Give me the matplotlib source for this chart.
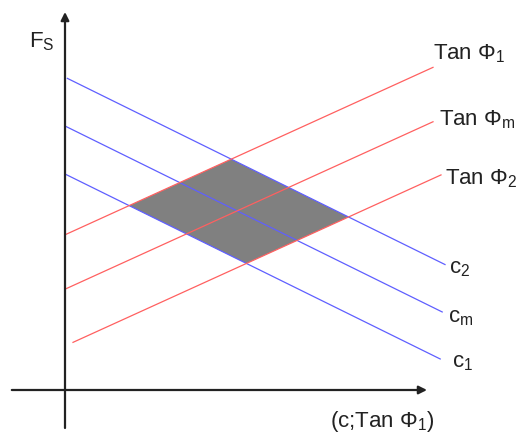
import matplotlib
matplotlib.use('Agg')
import matplotlib.pyplot as plt
import numpy as np

plt.rcParams['font.family'] = ['Liberation Sans', 'DejaVu Sans']
plt.rcParams['mathtext.fontset'] = 'custom'
plt.rcParams['mathtext.rm'] = 'Liberation Sans'
plt.rcParams['mathtext.it'] = 'Liberation Sans'

# blue lines: c1, cm, c2 (Fs falls with the x-value)
c_labels = ['c$_1$', 'c$_m$', 'c$_2$']
c_intercept = [5.4, 6.6, 7.82]
c_slope = -0.493
c_start = [0.03, 0.03, 0.06]
c_end = [9.38, 9.43, 9.5]

# red lines: Tan Phi1, Tan Phim, Tan Phi2
tan_labels = ['Tan Φ$_1$', 'Tan Φ$_m$', 'Tan Φ$_2$']
tan_intercept = [3.88, 2.52, 1.1]
tan_slope = 0.455
tan_start = [0.03, 0.03, 0.2]
tan_end = [9.2, 9.2, 9.4]

BLUE = '#5f5fff'
RED = '#ff6060'
INK = '#222222'

fig = plt.figure(figsize=(5.2, 4.35), dpi=100)
ax = fig.add_axes([0, 0, 1, 1])
ax.set_xlim(-65 / 40, 455 / 40)
ax.set_ylim(-44 / 40, 391 / 40)
ax.axis('off')


def meet(cb, tb):
    x = (cb - tb) / (tan_slope - c_slope)
    return x, tb + tan_slope * x


# shaded zone between c1/c2 and Tan Phi1/Tan Phi2
corners = [meet(c_intercept[0], tan_intercept[0]),
           meet(c_intercept[2], tan_intercept[0]),
           meet(c_intercept[2], tan_intercept[2]),
           meet(c_intercept[0], tan_intercept[2])]
ax.fill([p[0] for p in corners], [p[1] for p in corners],
        color='#808080', lw=0, zorder=1)

for b, x0, x1 in zip(c_intercept, c_start, c_end):
    xs = np.array([x0, x1])
    ax.plot(xs, b + c_slope * xs, color=BLUE, lw=0.9, zorder=2)
for b, x0, x1 in zip(tan_intercept, tan_start, tan_end):
    xs = np.array([x0, x1])
    ax.plot(xs, b + tan_slope * xs, color=RED, lw=0.9, zorder=2)

# axes with arrows
arrow = dict(arrowstyle='-|>', mutation_scale=12, lw=1.6, color=INK,
             shrinkA=0, shrinkB=0)
ax.annotate('', xy=(0, 9.45), xytext=(0, -0.95), arrowprops=arrow, zorder=3)
ax.annotate('', xy=(9.05, 0), xytext=(-1.33, 0), arrowprops=arrow, zorder=3)

fs = 16
tan_pos = [(9.2, 8.3), (9.35, 6.65), (9.5, 5.17)]
for lab, (x, y) in zip(tan_labels, tan_pos):
    ax.text(x, y, lab, fontsize=fs, color=INK, ha='left', va='baseline')
c_pos = [(9.67, 0.6), (9.57, 1.72), (9.6, 2.95)]
for lab, (x, y) in zip(c_labels, c_pos):
    ax.text(x, y, lab, fontsize=fs, color=INK, ha='left', va='baseline')

ax.text(-0.9, 8.58, 'F$_S$', fontsize=fs, color=INK, ha='left', va='baseline')
ax.text(6.62, -0.9, '(c;Tan Φ$_1$)', fontsize=fs, color=INK,
        ha='left', va='baseline')

fig.savefig('out.png', dpi=100)
